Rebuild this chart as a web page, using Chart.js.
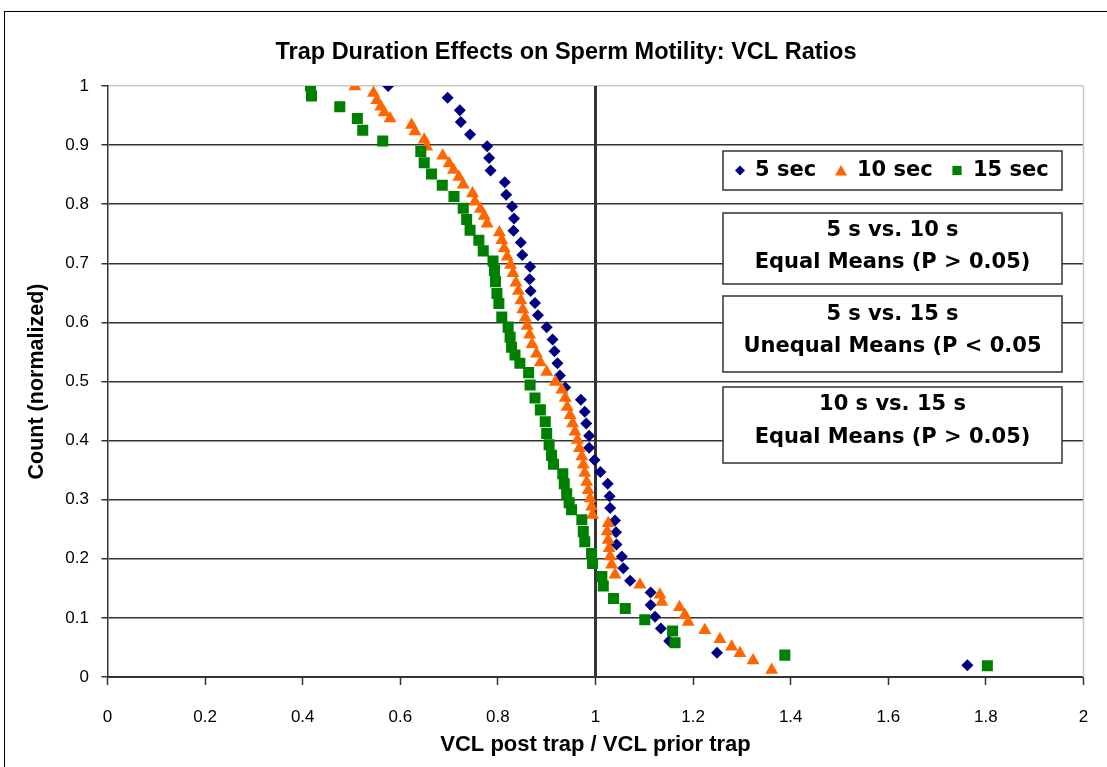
<!DOCTYPE html>
<html>
<head>
<meta charset="utf-8">
<script src="https://cdn.jsdelivr.net/npm/chart.js@4.4.1/dist/chart.umd.min.js"></script>
<style>
  html, body { margin: 0; padding: 0; background: #ffffff; }
  #wrap { width: 1107px; height: 767px; position: relative; }
</style>
</head>
<body>
<div id="wrap"><canvas id="c" width="1107" height="767"></canvas></div>
<script>
// ---------- data ----------
const seriesNames = ['5 sec', '10 sec', '15 sec'];

const sec5X = [0.575,0.697,0.722,0.724,0.743,0.778,0.782,0.785,0.814,0.817,0.829,0.833,0.832,0.847,0.850,0.866,0.865,0.867,0.876,0.882,0.900,0.912,0.916,0.922,0.927,0.938,0.970,0.978,0.981,0.987,0.987,0.998,1.010,1.025,1.029,1.030,1.040,1.042,1.043,1.054,1.057,1.071,1.113,1.113,1.122,1.134,1.151,1.249,1.762];
const sec5Y = [1.000,0.980,0.959,0.939,0.918,0.898,0.878,0.857,0.837,0.816,0.796,0.776,0.755,0.735,0.714,0.694,0.673,0.653,0.633,0.612,0.592,0.571,0.551,0.531,0.510,0.490,0.469,0.449,0.429,0.408,0.388,0.367,0.347,0.327,0.306,0.286,0.265,0.245,0.224,0.204,0.184,0.163,0.143,0.122,0.102,0.082,0.061,0.041,0.020];

const sec10X = [0.507,0.545,0.552,0.560,0.567,0.579,0.623,0.630,0.649,0.654,0.687,0.700,0.709,0.720,0.729,0.748,0.753,0.764,0.772,0.778,0.803,0.808,0.813,0.819,0.826,0.831,0.837,0.842,0.847,0.851,0.856,0.860,0.865,0.870,0.879,0.887,0.900,0.918,0.931,0.938,0.942,0.948,0.953,0.958,0.963,0.967,0.972,0.975,0.978,0.982,0.985,0.989,0.992,0.994,1.026,1.024,1.026,1.028,1.030,1.033,1.040,1.091,1.132,1.136,1.172,1.183,1.190,1.224,1.255,1.279,1.296,1.323,1.361];
const sec10Y = [0.999,0.988,0.976,0.965,0.955,0.945,0.934,0.923,0.909,0.897,0.882,0.869,0.858,0.846,0.833,0.818,0.804,0.792,0.780,0.767,0.752,0.739,0.725,0.711,0.697,0.683,0.667,0.653,0.637,0.622,0.608,0.594,0.579,0.563,0.547,0.532,0.516,0.499,0.486,0.472,0.457,0.443,0.429,0.415,0.401,0.387,0.373,0.359,0.345,0.330,0.316,0.302,0.288,0.274,0.260,0.246,0.232,0.218,0.204,0.190,0.173,0.156,0.139,0.127,0.118,0.105,0.093,0.079,0.064,0.051,0.040,0.028,0.012];

const sec15X = [0.416,0.418,0.476,0.512,0.523,0.564,0.642,0.649,0.664,0.686,0.710,0.729,0.736,0.743,0.761,0.770,0.790,0.793,0.795,0.798,0.802,0.808,0.821,0.825,0.828,0.835,0.845,0.863,0.866,0.876,0.887,0.897,0.900,0.905,0.910,0.914,0.933,0.936,0.941,0.946,0.951,0.972,0.975,0.978,0.992,0.994,1.013,1.016,1.037,1.061,1.101,1.158,1.163,1.388,1.803];
const sec15Y = [1.000,0.983,0.965,0.945,0.925,0.907,0.889,0.870,0.851,0.832,0.813,0.793,0.774,0.756,0.739,0.721,0.704,0.688,0.669,0.649,0.632,0.609,0.592,0.575,0.558,0.545,0.531,0.515,0.494,0.472,0.452,0.432,0.412,0.393,0.375,0.360,0.344,0.327,0.310,0.295,0.283,0.266,0.246,0.229,0.209,0.192,0.170,0.154,0.133,0.116,0.097,0.078,0.058,0.037,0.019];

const refLineX = [1, 1];
const refLineY = [0, 1];

const xTickLabels = ['0','0.2','0.4','0.6','0.8','1','1.2','1.4','1.6','1.8','2'];
const yTickLabels = ['0','0.1','0.2','0.3','0.4','0.5','0.6','0.7','0.8','0.9','1'];

const chartTitle = 'Trap Duration Effects on Sperm Motility: VCL Ratios';
const xTitle = 'VCL post trap / VCL prior trap';
const yTitle = 'Count (normalized)';
const comparisonBoxes = [
  ['5 s vs. 10 s', 'Equal Means (P > 0.05)'],
  ['5 s vs. 15 s', 'Unequal Means (P < 0.05'],
  ['10 s vs. 15 s', 'Equal Means (P > 0.05)']
];

// ---------- styling ----------
const COL5 = '#000080', COL10 = '#FF6600', COL15 = '#008000';
const BOLD = "'DejaVu Sans', 'Liberation Sans', Arial, sans-serif";
const ARIAL = "'Liberation Sans', Arial, sans-serif";
const DARK = '#333333';

const pts = (xs, ys) => xs.map((x, i) => ({ x: x, y: ys[i] }));

const overlay = {
  id: 'overlay',
  beforeDraw(chart) {
    const ctx = chart.ctx;
    ctx.save();
    ctx.fillStyle = '#ffffff';
    ctx.fillRect(0, 0, chart.width, chart.height);
    ctx.restore();
  },
  afterDraw(chart) {
    const ctx = chart.ctx;
    const a = chart.chartArea;
    ctx.save();
    // plot area right edge (light)
    ctx.strokeStyle = '#c8c8c8';
    ctx.lineWidth = 1.5;
    ctx.beginPath();
    ctx.moveTo(a.right, a.top);
    ctx.lineTo(a.right, a.bottom);
    ctx.stroke();
    // outer chart frame
    ctx.strokeStyle = '#000000';
    ctx.lineWidth = 1;
    ctx.strokeRect(4.5, 11.5, 1300, 900);

    // chart title
    ctx.fillStyle = '#000000';
    ctx.font = 'bold 23.5px ' + ARIAL;
    ctx.textAlign = 'center';
    ctx.textBaseline = 'middle';
    ctx.fillText(chartTitle, 566, 53);

    // legend box
    const box = (x, y, w, h) => {
      ctx.fillStyle = '#ffffff';
      ctx.fillRect(x, y, w, h);
      ctx.strokeStyle = DARK;
      ctx.lineWidth = 1.5;
      ctx.strokeRect(x, y, w, h);
    };
    box(723, 151, 339, 39);
    const legendItems = [
      { style: 'rectRot', r: 5, col: COL5, mx: 740, tx: 755 },
      { style: 'triangle', r: 7, col: COL10, mx: 841, tx: 857 },
      { style: 'rect', r: 6.5, col: COL15, mx: 957, tx: 973 }
    ];
    ctx.font = 'bold 21px ' + BOLD;
    ctx.textBaseline = 'middle';
    ctx.textAlign = 'left';
    legendItems.forEach((it, i) => {
      ctx.fillStyle = it.col;
      Chart.helpers.drawPoint(ctx, { pointStyle: it.style, radius: it.r, rotation: 0, borderWidth: 0 }, it.mx, it.style === 'triangle' ? 172 : 170.5);
      ctx.fillStyle = '#000000';
      ctx.fillText(seriesNames[i], it.tx, 171);
    });

    // comparison boxes
    const boxes = [
      { y: 213, h: 71, l1: 231, l2: 263 },
      { y: 296, h: 76, l1: 315, l2: 347 },
      { y: 387, h: 76, l1: 405, l2: 438 }
    ];
    boxes.forEach((b, i) => {
      box(723, b.y, 339, b.h);
      ctx.fillStyle = '#000000';
      ctx.textAlign = 'center';
      ctx.fillText(comparisonBoxes[i][0], 892.5, b.l1);
      ctx.fillText(comparisonBoxes[i][1], 892.5, b.l2);
    });
    ctx.restore();
  }
};

new Chart(document.getElementById('c'), {
  type: 'scatter',
  data: {
    datasets: [
      { label: 'ref', type: 'line', data: pts(refLineX, refLineY), borderColor: DARK, borderWidth: 3,
        pointRadius: 0, fill: false, order: 5 },
      { label: seriesNames[0], data: pts(sec5X, sec5Y), pointStyle: 'rectRot', pointRadius: 6,
        backgroundColor: COL5, borderColor: COL5, pointBorderWidth: 0, order: 3 },
      { label: seriesNames[1], data: pts(sec10X, sec10Y), pointStyle: 'triangle', pointRadius: 7.5,
        backgroundColor: COL10, borderColor: COL10, pointBorderWidth: 0, order: 2 },
      { label: seriesNames[2], data: pts(sec15X, sec15Y), pointStyle: 'rect', pointRadius: 7.8,
        backgroundColor: COL15, borderColor: COL15, pointBorderWidth: 0, order: 1 }
    ]
  },
  options: {
    responsive: false,
    animation: false,
    events: [],
    layout: { padding: { left: 0, right: 23.5, top: 86, bottom: 0 } },
    plugins: {
      legend: { display: false },
      tooltip: { enabled: false },
      title: { display: false }
    },
    scales: {
      x: {
        type: 'linear',
        position: 'bottom',
        min: 0, max: 2,
        afterBuildTicks: (s) => { s.ticks = xTickLabels.map(t => ({ value: parseFloat(t) })); },
        afterFit: (s) => { s.height = 90; s.paddingLeft = 0; s.paddingRight = 0; },
        ticks: {
          callback: (v, i) => xTickLabels[i],
          color: '#000000',
          font: { family: ARIAL, size: 17 },
          padding: 22,
          maxRotation: 0,
          autoSkip: false
        },
        grid: { drawOnChartArea: false, drawTicks: true, tickLength: 8, tickColor: DARK, tickWidth: 1.5 },
        border: { display: true, color: DARK, width: 2 },
        title: {
          display: true, text: xTitle, color: '#000000',
          font: { family: ARIAL, size: 22, weight: 'bold', lineHeight: 1.2 },
          padding: { top: 0, bottom: 8.8 }
        }
      },
      y: {
        type: 'linear',
        position: 'left',
        min: 0, max: 1,
        afterBuildTicks: (s) => { s.ticks = yTickLabels.map(t => ({ value: parseFloat(t) })); },
        afterFit: (s) => { s.width = 107.5; s.paddingTop = 0; s.paddingBottom = 0; },
        ticks: {
          callback: (v, i) => yTickLabels[i],
          color: '#000000',
          font: { family: ARIAL, size: 17 },
          padding: 12.5,
          autoSkip: false
        },
        grid: {
          drawTicks: true, tickLength: 6,
          color: (c) => (c.tick && c.tick.value === 1) ? '#c8c8c8' : DARK,
          tickColor: DARK,
          lineWidth: 1.5
        },
        border: { display: true, color: DARK, width: 1.5 },
        title: {
          display: true, text: yTitle, color: '#000000',
          font: { family: ARIAL, size: 21.5, weight: 'bold', lineHeight: 1.2 },
          padding: { top: 23.8, bottom: 0 }
        }
      }
    }
  },
  plugins: [overlay]
});
</script>
</body>
</html>
